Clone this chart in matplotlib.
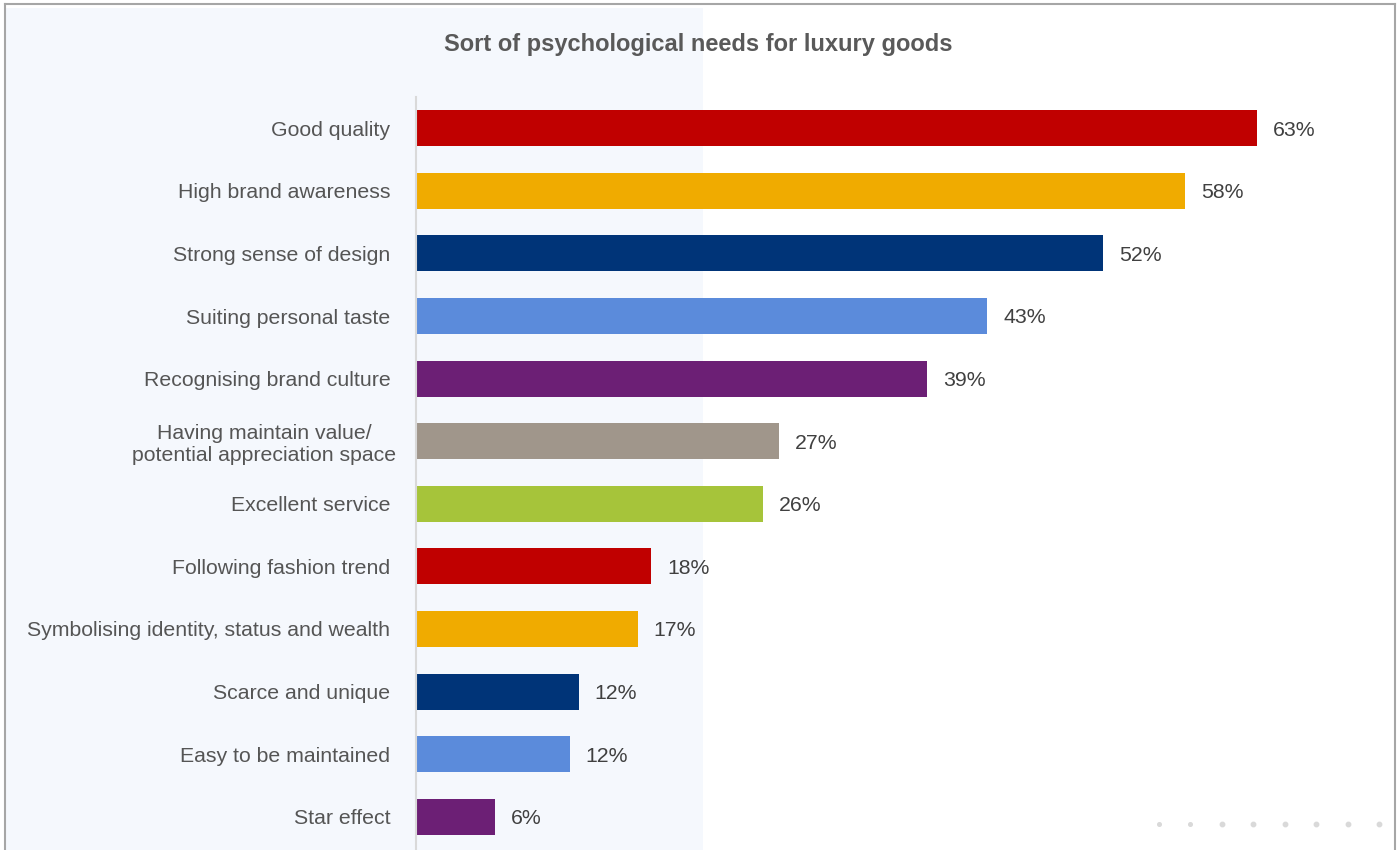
import matplotlib
matplotlib.use("Agg")
import matplotlib.pyplot as plt
from matplotlib.patches import Rectangle
from matplotlib.lines import Line2D
from matplotlib.transforms import ScaledTranslation

categories = [
    "Good quality",
    "High brand awareness",
    "Strong sense of design",
    "Suiting personal taste",
    "Recognising brand culture",
    "Having maintain value/\npotential appreciation space",
    "Excellent service",
    "Following fashion trend",
    "Symbolising identity, status and wealth",
    "Scarce and unique",
    "Easy to be maintained",
    "Star effect",
]
values = [63.0, 57.6, 51.5, 42.8, 38.3, 27.2, 26.0, 17.6, 16.6, 12.2, 11.5, 5.9]
value_labels = ["63%", "58%", "52%", "43%", "39%", "27%", "26%", "18%", "17%", "12%", "12%", "6%"]
colors = ["#C00000", "#F0AB00", "#003478", "#5B8BDB", "#6C1F75", "#A0968B",
          "#A6C43A", "#C00000", "#F0AB00", "#003478", "#5B8BDB", "#6C1F75"]
title = "Sort of psychological needs for luxury goods"

W, H = 1400, 850
fig = plt.figure(figsize=(W / 100, H / 100), dpi=100)
plt.rcParams['font.family'] = ['Liberation Sans', 'DejaVu Sans']

# light background panel on the left
fig.add_artist(Rectangle((5 / W, 0), (703 - 5) / W, 1 - 8 / H, transform=fig.transFigure,
                         facecolor="#F5F8FD", edgecolor="none", zorder=0))
# frame
frame_col = "#A6A6A6"
fig.add_artist(Line2D([5 / W, 5 / W], [0, 1 - 4 / H], transform=fig.transFigure, color=frame_col, lw=1.5))
fig.add_artist(Line2D([1395 / W, 1395 / W], [0, 1 - 4 / H], transform=fig.transFigure, color=frame_col, lw=1.5))
fig.add_artist(Line2D([5 / W, 1395 / W], [1 - 4 / H, 1 - 4 / H], transform=fig.transFigure, color=frame_col, lw=1.5))

# decorative dots bottom right
dot_x = [1159, 1190, 1222, 1253, 1285, 1316, 1348, 1379]
for i, dx in enumerate(dot_x):
    fig.add_artist(Line2D([dx / W], [1 - 824 / H], transform=fig.transFigure, marker="o",
                          markersize=3.2 if i > 1 else 2.6, color="#D9D9D9", linestyle="none"))

fig.text(698 / W, 1 - 45 / H, title, ha="center", va="center", fontsize=17,
         fontweight="bold", color="#595959")

left, top, bottom = 416, 97, 848
ax_w = 1370 - left
ax = fig.add_axes([left / W, 1 - bottom / H, ax_w / W, (bottom - top) / H])
ax.patch.set_visible(False)
px_per_unit = (1257 - 416) / 63.0
ax.set_xlim(0, ax_w / px_per_unit)
y = list(range(len(categories)))
ax.barh(y, values, height=0.575, color=colors, zorder=2)
ax.set_ylim(len(categories) - 0.5, -0.5)
for yi, v, lab in zip(y, values, value_labels):
    ax.text(v + 16 / px_per_unit, yi + 0.03, lab, va="center", ha="left", fontsize=15.3, color="#404040")

ax.set_yticks(y)
ticklabels = ax.set_yticklabels(categories, fontsize=15.3, color="#555555", linespacing=1.2)
ax.tick_params(axis="y", length=0, pad=18.5)
for t in ticklabels:
    if "\n" in t.get_text():
        t.set_multialignment("center")
        t.set_transform(t.get_transform() + ScaledTranslation(6 / 100, 0, fig.dpi_scale_trans))
ax.set_xticks([])
for s in ["top", "right", "bottom"]:
    ax.spines[s].set_visible(False)
ax.spines["left"].set_color("#D9D9D9")
ax.spines["left"].set_linewidth(1.5)
ax.spines["left"].set_bounds(11.5 + 0.1, -0.5)

fig.savefig("out.png", dpi=100)
